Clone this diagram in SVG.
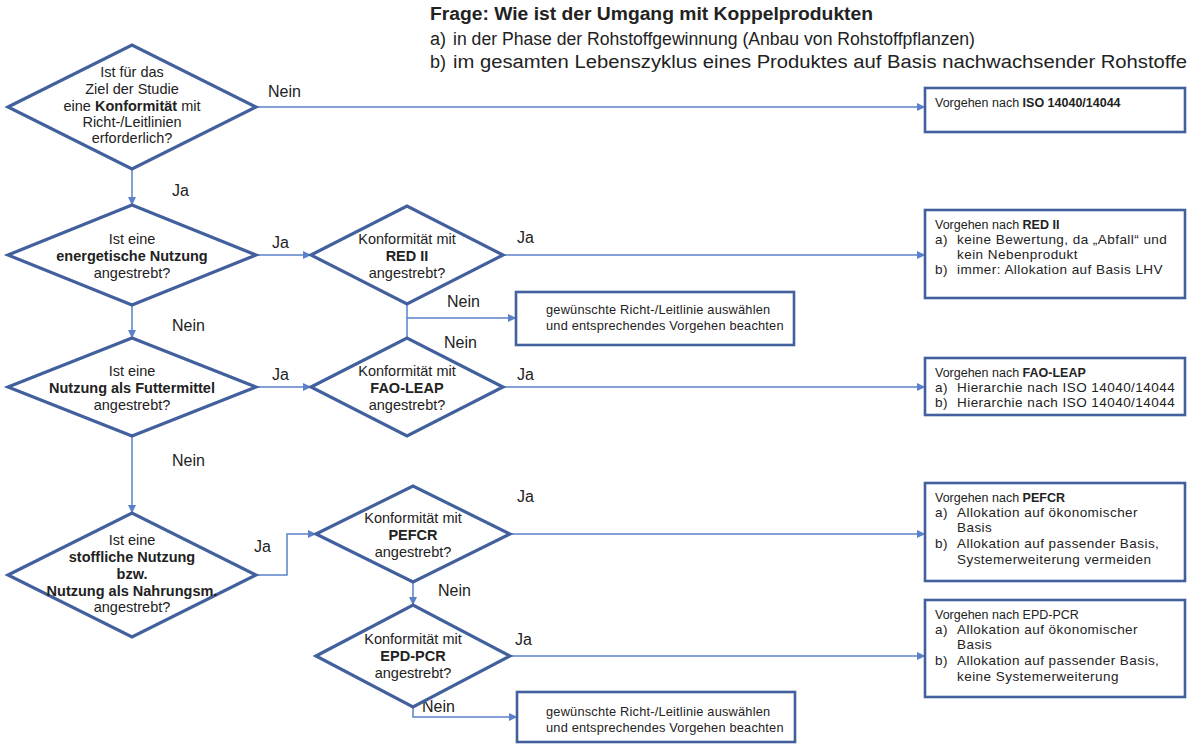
<svg xmlns="http://www.w3.org/2000/svg" width="1197" height="744" viewBox="0 0 1197 744">
<defs>
<marker id="arr" markerWidth="9" markerHeight="9" refX="8" refY="4.5" orient="auto" markerUnits="userSpaceOnUse">
<path d="M0,0.5 L8.5,4.5 L0,8.5 z" fill="#5b82c8"/>
</marker>
<style>
text{font-family:"Liberation Sans",Arial,sans-serif;fill:#222;}
.d{fill:#fff;stroke:#42609e;stroke-width:3.2;stroke-linejoin:miter;}
.b{fill:#fff;stroke:#42609e;stroke-width:2.6;}
.c{fill:none;stroke:#5b82c8;stroke-width:1.5;}
.ca{fill:none;stroke:#5b82c8;stroke-width:1.5;marker-end:url(#arr);}
.dt{font-size:14.5px;text-anchor:middle;}
.bh{font-size:12.5px;}
.bt{font-size:13.5px;letter-spacing:0.45px;}
.gw{font-size:12.8px;letter-spacing:0.2px;}
.lb{font-size:16px;}
.hd{font-size:18px;}
.bo{font-weight:bold;}
</style>
</defs>
<rect width="1197" height="744" fill="#fff"/>

<g id="header">
<text class="hd bo" x="430" y="20" textLength="443" lengthAdjust="spacingAndGlyphs">Frage: Wie ist der Umgang  mit Koppelprodukten</text>
<text class="hd" x="430" y="45">a)</text>
<text class="hd" x="453" y="45" textLength="522" lengthAdjust="spacingAndGlyphs">in der Phase der Rohstoffgewinnung (Anbau von Rohstoffpflanzen)</text>
<text class="hd" x="430" y="68">b)</text>
<text class="hd" x="453" y="68" textLength="734" lengthAdjust="spacingAndGlyphs">im gesamten  Lebenszyklus  eines  Produktes  auf Basis nachwachsender  Rohstoffe</text>
</g>

<g id="connectors">
<path class="ca" d="M256,107 H925"/>
<path class="ca" d="M132,169 V205"/>
<path class="ca" d="M256,255 H311"/>
<path class="ca" d="M503,255 H925"/>
<path class="c" d="M407,304 V338"/>
<path class="ca" d="M407,318 H516"/>
<path class="ca" d="M132,305 V338"/>
<path class="ca" d="M256,387 H311"/>
<path class="ca" d="M503,387 H925"/>
<path class="ca" d="M132,436 V513"/>
<path class="ca" d="M256,575 H287 V534 H316"/>
<path class="ca" d="M510,534 H925"/>
<path class="ca" d="M413,582 V605"/>
<path class="ca" d="M510,656 H925"/>
<path class="ca" d="M413,707 V717 H517"/>
<text class="lb" x="268" y="97">Nein</text>
<text class="lb" x="172" y="196">Ja</text>
<text class="lb" x="272" y="248">Ja</text>
<text class="lb" x="517" y="243">Ja</text>
<text class="lb" x="447" y="307">Nein</text>
<text class="lb" x="444" y="348">Nein</text>
<text class="lb" x="172" y="331">Nein</text>
<text class="lb" x="272" y="380">Ja</text>
<text class="lb" x="517" y="380">Ja</text>
<text class="lb" x="172" y="466">Nein</text>
<text class="lb" x="254" y="552">Ja</text>
<text class="lb" x="517" y="502">Ja</text>
<text class="lb" x="438" y="596">Nein</text>
<text class="lb" x="515" y="645">Ja</text>
<text class="lb" x="422" y="712">Nein</text>
</g>

<g id="q1">
<polygon class="d" points="8,107 132,45 256,107 132,169"/>
<text class="dt" x="132" y="77">Ist für das</text>
<text class="dt" x="132" y="94">Ziel der Studie</text>
<text class="dt" x="132" y="111">eine <tspan class="bo">Konformität</tspan> mit</text>
<text class="dt" x="132" y="127">Richt-/Leitlinien</text>
<text class="dt" x="132" y="143">erforderlich?</text>
</g>

<g id="q2">
<polygon class="d" points="8,255 132,205 256,255 132,305"/>
<text class="dt" x="132" y="244">Ist eine</text>
<text class="dt bo" x="132" y="261">energetische Nutzung</text>
<text class="dt" x="132" y="278">angestrebt?</text>
</g>

<g id="qRED">
<polygon class="d" points="311,255 407,206 503,255 407,304"/>
<text class="dt" x="407" y="244">Konformität mit</text>
<text class="dt bo" x="407" y="261">RED  II</text>
<text class="dt" x="407" y="278">angestrebt?</text>
</g>

<g id="q3">
<polygon class="d" points="8,387 132,338 256,387 132,436"/>
<text class="dt" x="132" y="376">Ist eine</text>
<text class="dt bo" x="132" y="393">Nutzung als Futtermittel</text>
<text class="dt" x="132" y="410">angestrebt?</text>
</g>

<g id="qFAO">
<polygon class="d" points="311,387 407,338 503,387 407,436"/>
<text class="dt" x="407" y="376">Konformität mit</text>
<text class="dt bo" x="407" y="393">FAO-LEAP</text>
<text class="dt" x="407" y="410">angestrebt?</text>
</g>

<g id="q4">
<polygon class="d" points="8,575 132,513 256,575 132,637"/>
<text class="dt" x="132" y="545">Ist eine</text>
<text class="dt bo" x="132" y="562">stoffliche Nutzung</text>
<text class="dt bo" x="132" y="579">bzw.</text>
<text class="dt bo" x="132" y="596">Nutzung als Nahrungsm.</text>
<text class="dt" x="132" y="612">angestrebt?</text>
</g>

<g id="qPEFCR">
<polygon class="d" points="316,534 413,486 510,534 413,582"/>
<text class="dt" x="413" y="523">Konformität mit</text>
<text class="dt bo" x="413" y="540">PEFCR</text>
<text class="dt" x="413" y="557">angestrebt?</text>
</g>

<g id="qEPD">
<polygon class="d" points="316,656 413,605 510,656 413,707"/>
<text class="dt" x="413" y="644">Konformität mit</text>
<text class="dt bo" x="413" y="661">EPD-PCR</text>
<text class="dt" x="413" y="678">angestrebt?</text>
</g>

<g id="boxISO">
<rect class="b" x="925" y="88" width="260" height="44"/>
<text class="bh" x="935" y="107">Vorgehen nach <tspan class="bo">ISO 14040/14044</tspan></text>
</g>

<g id="boxRED">
<rect class="b" x="925" y="210" width="260" height="88"/>
<text class="bh" x="935" y="229">Vorgehen nach <tspan class="bo">RED  II</tspan></text>
<text class="bt" x="935" y="244">a)</text>
<text class="bt" x="957" y="244">keine Bewertung, da „Abfall“ und</text>
<text class="bt" x="957" y="259">kein Nebenprodukt</text>
<text class="bt" x="935" y="274">b)</text>
<text class="bt" x="957" y="274">immer: Allokation auf Basis LHV</text>
</g>

<g id="boxOther1">
<rect class="b" x="516" y="292" width="278" height="53"/>
<text class="gw" x="546" y="314">gewünschte Richt-/Leitlinie auswählen</text>
<text class="gw" x="546" y="330">und entsprechendes Vorgehen beachten</text>
</g>

<g id="boxFAO">
<rect class="b" x="925" y="358" width="260" height="57"/>
<text class="bh" x="935" y="377">Vorgehen nach <tspan class="bo">FAO-LEAP</tspan></text>
<text class="bt" x="935" y="392">a)</text>
<text class="bt" x="957" y="392">Hierarchie nach ISO 14040/14044</text>
<text class="bt" x="935" y="407">b)</text>
<text class="bt" x="957" y="407">Hierarchie nach ISO 14040/14044</text>
</g>

<g id="boxPEFCR">
<rect class="b" x="925" y="483" width="260" height="98"/>
<text class="bh" x="935" y="502">Vorgehen nach <tspan class="bo">PEFCR</tspan></text>
<text class="bt" x="935" y="517">a)</text>
<text class="bt" x="957" y="517">Allokation auf ökonomischer</text>
<text class="bt" x="957" y="532">Basis</text>
<text class="bt" x="935" y="548">b)</text>
<text class="bt" x="957" y="548">Allokation auf passender Basis,</text>
<text class="bt" x="957" y="564">Systemerweiterung vermeiden</text>
</g>

<g id="boxEPD">
<rect class="b" x="925" y="600" width="260" height="97"/>
<text class="bh" x="935" y="619">Vorgehen nach EPD-PCR</text>
<text class="bt" x="935" y="634">a)</text>
<text class="bt" x="957" y="634">Allokation auf ökonomischer</text>
<text class="bt" x="957" y="649">Basis</text>
<text class="bt" x="935" y="665">b)</text>
<text class="bt" x="957" y="665">Allokation auf passender Basis,</text>
<text class="bt" x="957" y="681">keine Systemerweiterung</text>
</g>

<g id="boxOther2">
<rect class="b" x="517" y="692" width="278" height="50"/>
<text class="gw" x="546" y="716">gewünschte Richt-/Leitlinie auswählen</text>
<text class="gw" x="546" y="732">und entsprechendes Vorgehen beachten</text>
</g>
</svg>
